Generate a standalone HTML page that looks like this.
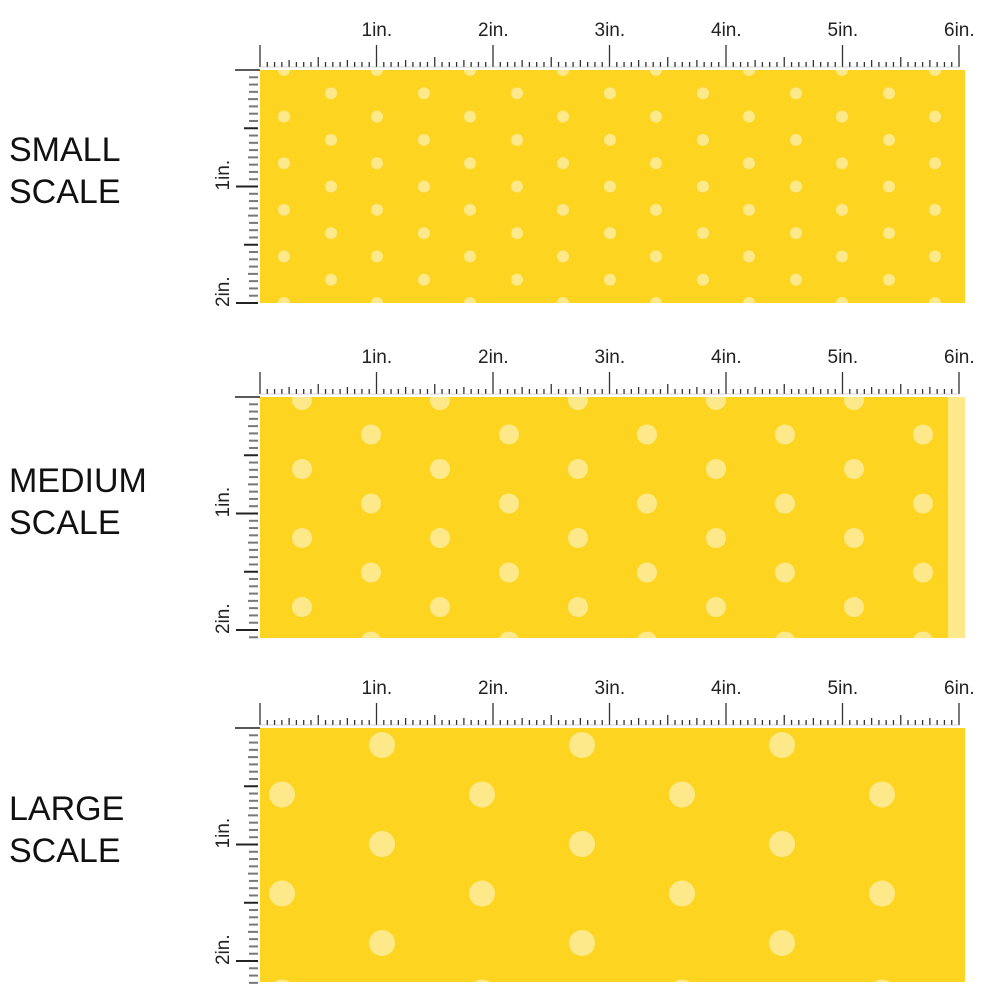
<!DOCTYPE html>
<html><head><style>
body{margin:0;background:#fff;width:1000px;height:1000px;overflow:hidden}
svg{display:block}
</style></head><body>
<svg id="s" width="1000" height="1000" xmlns="http://www.w3.org/2000/svg" font-family="Liberation Sans, sans-serif">
<defs>
<pattern id="p1" x="260" y="70" width="93" height="46.6" patternUnits="userSpaceOnUse">
<circle cx="24" cy="0" r="6" fill="#fde98a"/><circle cx="24" cy="46.6" r="6" fill="#fde98a"/>
<circle cx="71" cy="23.3" r="6" fill="#fde98a"/>
</pattern>
<pattern id="p2" x="260" y="400" width="138" height="69" patternUnits="userSpaceOnUse">
<circle cx="42" cy="0" r="10" fill="#fde98a"/><circle cx="42" cy="69" r="10" fill="#fde98a"/>
<circle cx="111" cy="34.5" r="10" fill="#fde98a"/>
</pattern>
<pattern id="p3" x="82" y="745" width="200" height="99" patternUnits="userSpaceOnUse">
<circle cx="100" cy="0" r="13" fill="#fde98a"/><circle cx="100" cy="99" r="13" fill="#fde98a"/>
<circle cx="0" cy="49.5" r="13" fill="#fde98a"/><circle cx="200" cy="49.5" r="13" fill="#fde98a"/>
</pattern>
</defs>
<rect x="260" y="70" width="705" height="233" fill="#fdd420"/>
<rect x="260" y="70" width="705" height="233" fill="url(#p1)"/>
<rect x="260" y="397" width="705" height="241" fill="#fdd420"/>
<rect x="260" y="397" width="705" height="241" fill="url(#p2)"/>
<rect x="948" y="397" width="17" height="241" fill="#fde98a"/>
<rect x="260" y="728" width="705" height="254" fill="#fdd420"/>
<rect x="260" y="728" width="705" height="254" fill="url(#p3)"/>
<g font-size="34" fill="#111">
<text x="9" y="161">SMALL</text><text x="9" y="203">SCALE</text>
<text x="9" y="492">MEDIUM</text><text x="9" y="534">SCALE</text>
<text x="9" y="820">LARGE</text><text x="9" y="862">SCALE</text>
</g>
<g id="r"></g>
</svg>
<script>
var g=document.getElementById('r'),h='',ppi=116.5;
[[67,70,303],[394,397,638],[725,728,982]].forEach(function(a){
var by=a[0],ty=a[1],bot=a[2];
for(var i=0;i<=96;i++){var x=260+i*ppi/16,l=i%16==0?22:i%8==0?10:i%4==0?7:5;
h+='<line x1="'+x+'" y1="'+by+'" x2="'+x+'" y2="'+(by-l)+'" stroke="#333" stroke-width="1.3"/>';}
h+='<line x1="260" y1="'+by+'" x2="960" y2="'+by+'" stroke="#aaa" stroke-width="0.6"/>';
for(var n=1;n<=6;n++)h+='<text x="'+(260+n*ppi-15)+'" y="'+(by-31)+'" font-size="19" fill="#222">'+n+'in.</text>';
h+='<line x1="235" y1="'+ty+'" x2="260" y2="'+ty+'" stroke="#222" stroke-width="1.5"/>';
for(var j=1;ty+j*ppi/16<=bot+1;j++){var y=ty+j*ppi/16,l=j%16==0?22:j%8==0?14:j%4==0?10:9;
h+='<line x1="258" y1="'+y+'" x2="'+(258-l)+'" y2="'+y+'" stroke="'+(j%8==0?'#222':'#777')+'" stroke-width="2"/>';}
for(var n=1;n<=2;n++){var y=ty+n*ppi;h+='<text transform="translate(229,'+(y+4)+') rotate(-90)" font-size="19" fill="#222">'+n+'in.</text>';}
});
g.innerHTML=h;
</script>
</body></html>
